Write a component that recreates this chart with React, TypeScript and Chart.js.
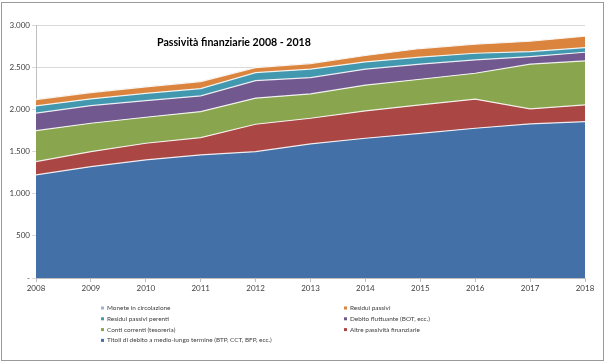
import { useEffect, useRef } from 'react';
import { Chart, registerables } from 'chart.js';

Chart.register(...registerables);

const years = ['2008', '2009', '2010', '2011', '2012', '2013', '2014', '2015', '2016', '2017', '2018'];
const titoli = [1222, 1320, 1400, 1459, 1498, 1590, 1657, 1716, 1776, 1827, 1854];
const altre = [158, 178, 198, 205, 325, 304, 324, 336, 344, 178, 198];
const conti = [367, 337, 308, 309, 309, 289, 305, 305, 308, 530, 522];
const debito = [207, 209, 197, 186, 209, 193, 190, 178, 158, 90, 103];
const perenti = [86, 79, 87, 87, 95, 100, 86, 83, 79, 60, 55];
const residui = [76, 76, 76, 83, 59, 67, 76, 103, 107, 122, 135];
const monete = [4, 4, 4, 4, 4, 4, 4, 4, 4, 4, 4];

const seriesLabels = [
  'Titoli di debito a medio-lungo termine (BTP, CCT, BFP, ecc.)',
  'Altre passività finanziarie',
  'Conti correnti (tesoreria)',
  'Debito fluttuante (BOT, ecc.)',
  'Residui passivi perenti',
  'Residui passivi',
  'Monete in circolazione',
];
const seriesColors = ['#4470A8', '#AA4643', '#89A54E', '#71588F', '#4198AF', '#DB843D', '#9DB3D8'];
const chartTitle = 'Passività finanziarie 2008 - 2018';

const fmt = (v: number) => (v === 0 ? '-' : String(v).replace(/\B(?=(\d{3})+(?!\d))/g, '.'));

const FONT = 'Lato, Carlito, "Open Sans", sans-serif';

const decor = {
  id: 'decor',
  beforeDraw(chart: any) {
    const ctx = chart.ctx;
    ctx.save();
    ctx.fillStyle = '#ffffff';
    ctx.fillRect(0, 0, chart.width, chart.height);
    ctx.restore();
  },
  afterDraw(chart: any) {
    const ctx = chart.ctx;
    ctx.save();
    // outer frame
    ctx.strokeStyle = '#9a9a9a';
    ctx.lineWidth = 1;
    ctx.strokeRect(1.5, 2.5, 602, 358);
    // title
    ctx.fillStyle = '#000000';
    ctx.font = 'bold 11px ' + FONT;
    const w = ctx.measureText(chartTitle).width;
    const size = (11 * 154) / w;
    ctx.font = 'bold ' + size.toFixed(2) + 'px ' + FONT;
    ctx.textBaseline = 'middle';
    ctx.textAlign = 'left';
    ctx.fillText(chartTitle, 157, 43);
    // legend: reversed order, two columns, row-major
    const ds = chart.data.datasets.slice().reverse();
    ctx.font = '6.4px ' + FONT;
    ds.forEach((d: any, i: number) => {
      const col = i % 2;
      const row = Math.floor(i / 2);
      const x = col === 0 ? 101 : 344;
      const y = 308 + row * 10.8;
      ctx.fillStyle = d.backgroundColor;
      ctx.fillRect(x, y - 1.5, 3, 3);
      ctx.fillStyle = '#404040';
      ctx.fillText(d.label, x + 6, y);
    });
    ctx.restore();
  },
};

export default function App() {
  const ref = useRef<HTMLCanvasElement>(null);
  useEffect(() => {
    document.body.style.margin = '0';
    const values = [titoli, altre, conti, debito, perenti, residui, monete];
    const chart = new Chart(ref.current!, {
      type: 'line',
      data: {
        labels: years,
        datasets: values.map((v, i) => ({
          label: seriesLabels[i],
          data: v,
          backgroundColor: seriesColors[i],
          borderColor: i === 6 ? seriesColors[5] : 'rgba(255,255,255,0.85)',
          borderWidth: i === 6 ? 0 : 1.2,
          fill: i === 0 ? 'origin' : '-1',
          pointRadius: 0,
          tension: 0,
        })),
      },
      options: {
        animation: false,
        responsive: false,
        devicePixelRatio: 1,
        layout: { padding: { top: 25, right: 21, left: 0, bottom: 0 } },
        plugins: { legend: { display: false }, title: { display: false }, tooltip: { enabled: false } },
        scales: {
          x: {
            offset: false,
            grid: { drawOnChartArea: false, tickLength: 4, color: '#bfbfbf' },
            border: { color: '#bfbfbf' },
            ticks: { color: '#404040', font: { size: 8, family: FONT }, maxRotation: 0, autoSkip: false, padding: 2 },
            afterFit: (s: any) => { s.height = 84; },
          },
          y: {
            stacked: true,
            min: 0,
            max: 3000,
            grid: { color: '#d9d9d9', tickLength: 4 },
            border: { color: '#bfbfbf' },
            ticks: { stepSize: 500, color: '#404040', font: { size: 8, family: FONT }, padding: 2, callback: (v: any) => fmt(Number(v)) },
            afterFit: (s: any) => { s.width = 36; },
          },
        },
      },
      plugins: [decor],
    });
    return () => chart.destroy();
  }, []);
  return (
    <div style={{ width: 606, height: 362 }}>
      <canvas ref={ref} width={606} height={362} style={{ width: 606, height: 362, display: 'block' }} />
    </div>
  );
}
